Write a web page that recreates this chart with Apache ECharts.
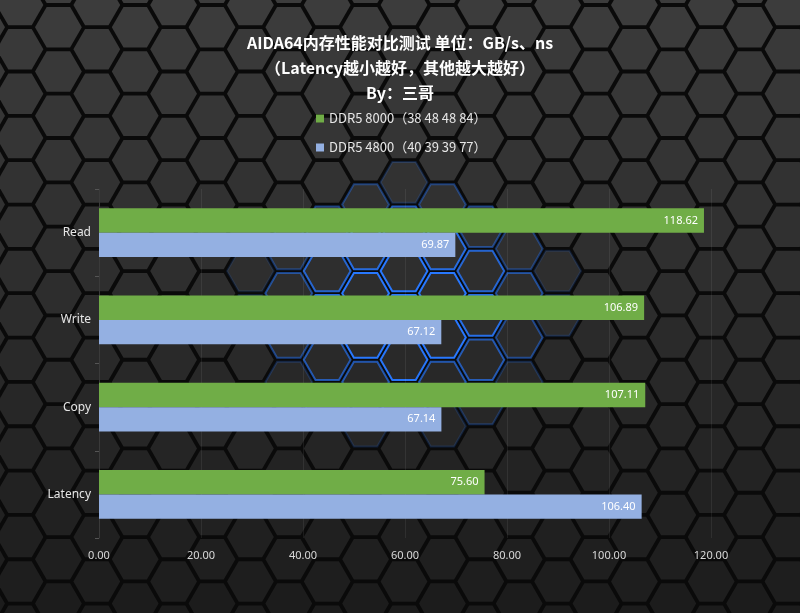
<!DOCTYPE html>
<html><head><meta charset="utf-8">
<script src="https://cdn.jsdelivr.net/npm/echarts@6/dist/echarts.min.js"></script>
<style>html,body{margin:0;padding:0;background:#111;}#c{width:800px;height:613px;}</style>
</head><body><div id="c"></div>
<script>
const categories = ['Read', 'Write', 'Copy', 'Latency'];
const seriesNames = ['DDR5 8000（38 48 48 84）', 'DDR5 4800（40 39 39 77）'];
const ddr5_8000 = [118.62, 106.89, 107.11, 75.60];
const ddr5_4800 = [69.87, 67.12, 67.14, 106.40];
const xTicks = { min: 0, max: 120, interval: 20 };

// decorative hexagon background
const bg = [];
const R = 25.6, colW = 1.5 * R, rowH = Math.sqrt(3) * R;
for (let c = -1; c < 24; c++) {
  for (let r = -1; r < 16; r++) {
    const cx = c * colW + 20;
    const cy = r * rowH + (c % 2 ? rowH / 2 : 0) + 5;
    const pts = [];
    const rr = R - 2.2;
    for (let k = 0; k < 6; k++) {
      const a = Math.PI / 3 * k;
      pts.push([cx + rr * Math.cos(a), cy + rr * Math.sin(a)]);
    }
    const t = Math.min(1, Math.max(0, cy / 613));
    const g = Math.round(60 - 32 * t);
    const dx = (cx - 405) / 175, dy = (cy - 305) / 140;
    const d = Math.sqrt(dx * dx + dy * dy);
    const blue = d < 1 ? Math.max(0, 1 - d) : 0;
    bg.push({
      type: 'polygon', z: -10, silent: true,
      shape: { points: pts },
      style: {
        fill: `rgb(${g},${g},${g})`,
        stroke: blue > 0.05 ? `rgba(40,120,255,${Math.min(1, blue * 1.6)})` : 'rgba(0,0,0,0)',
        lineWidth: blue > 0.05 ? 2 : 0
      }
    });
  }
}

const chart = echarts.init(document.getElementById('c'));
chart.setOption({
  backgroundColor: '#0a0a0a',
  graphic: bg,
  title: {
    text: 'AIDA64内存性能对比测试 单位：GB/s、ns\n（Latency越小越好，其他越大越好）\nBy：三哥',
    left: 'center', top: 25,
    textStyle: { color: '#ffffff', fontSize: 16, fontWeight: 'bold', lineHeight: 25,
      fontFamily: '"Noto Sans CJK SC", sans-serif' }
  },
  legend: {
    orient: 'vertical', left: 311, top: 107, itemGap: 16,
    itemWidth: 8, itemHeight: 8, icon: 'rect',
    textStyle: { color: '#e6e6e6', fontSize: 13, fontFamily: '"Noto Sans CJK SC", sans-serif' },
    data: seriesNames
  },
  grid: { left: 99, right: 89, top: 189, bottom: 75, containLabel: false },
  xAxis: {
    type: 'value', min: xTicks.min, max: xTicks.max, interval: xTicks.interval,
    axisLine: { show: false }, axisTick: { show: false },
    axisLabel: { color: '#d9d9d9', fontSize: 11, margin: 12,
      formatter: v => v.toFixed(2), fontFamily: '"Noto Sans", sans-serif' },
    splitLine: { show: true, lineStyle: { color: 'rgba(255,255,255,0.07)', width: 1 } }
  },
  yAxis: {
    type: 'category', data: categories, inverse: true,
    axisLine: { show: true, lineStyle: { color: '#3a3a3a' } },
    axisTick: { show: true, length: 4, lineStyle: { color: '#555' } },
    axisLabel: { color: '#e6e6e6', fontSize: 12, margin: 8,
      fontFamily: '"Noto Sans", sans-serif' }
  },
  series: [
    { name: seriesNames[0], type: 'bar', data: ddr5_8000, barGap: '0%', barCategoryGap: '44%',
      itemStyle: { color: '#70ad47' },
      label: { show: true, position: 'insideRight', color: '#ffffff', fontSize: 11,
        formatter: p => p.value.toFixed(2), distance: 6, fontFamily: '"Noto Sans", sans-serif' } },
    { name: seriesNames[1], type: 'bar', data: ddr5_4800, barGap: '0%', barCategoryGap: '44%',
      itemStyle: { color: '#94b0e2' },
      label: { show: true, position: 'insideRight', color: '#ffffff', fontSize: 11,
        formatter: p => p.value.toFixed(2), distance: 6, fontFamily: '"Noto Sans", sans-serif' } }
  ]
});
</script></body></html>
